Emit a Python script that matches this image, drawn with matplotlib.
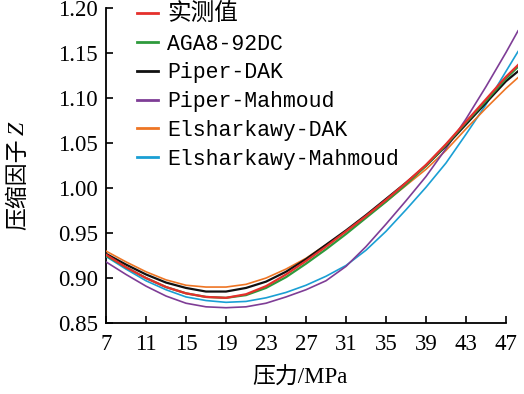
import matplotlib
matplotlib.use('Agg')
import matplotlib.pyplot as plt

# Давление, МПа
pressure = [7, 9, 11, 13, 15, 17, 19, 21, 23, 25, 27, 29, 31, 33, 35, 37, 39, 41, 43, 45, 47, 48.2]

# Коэффициент сжимаемости Z
z_measured = [0.926, 0.912, 0.900, 0.890, 0.883, 0.879, 0.878, 0.882, 0.891, 0.904, 0.919, 0.935,
              0.952, 0.969, 0.987, 1.006, 1.026, 1.049, 1.074, 1.099, 1.124, 1.137]
z_aga8 = [0.925, 0.912, 0.900, 0.890, 0.883, 0.879, 0.878, 0.881, 0.889, 0.901, 0.916, 0.932,
          0.949, 0.967, 0.985, 1.004, 1.025, 1.048, 1.073, 1.097, 1.122, 1.135]
z_piper_dak = [0.927, 0.915, 0.904, 0.895, 0.889, 0.885, 0.885, 0.889, 0.896, 0.907, 0.921, 0.937,
               0.953, 0.970, 0.988, 1.006, 1.025, 1.047, 1.071, 1.095, 1.119, 1.130]
z_piper_mahmoud = [0.918, 0.904, 0.891, 0.880, 0.872, 0.868, 0.867, 0.868, 0.872, 0.879, 0.887, 0.897,
                   0.913, 0.935, 0.960, 0.986, 1.013, 1.044, 1.077, 1.113, 1.151, 1.175]
z_elsh_dak = [0.930, 0.918, 0.907, 0.898, 0.892, 0.890, 0.890, 0.893, 0.900, 0.910, 0.922, 0.937,
              0.952, 0.968, 0.985, 1.003, 1.021, 1.042, 1.066, 1.089, 1.111, 1.123]
z_elsh_mahmoud = [0.924, 0.910, 0.897, 0.887, 0.879, 0.875, 0.873, 0.874, 0.878, 0.884, 0.892, 0.902,
                  0.914, 0.931, 0.952, 0.976, 1.001, 1.028, 1.060, 1.093, 1.130, 1.152]

labels = ['实测值', 'AGA8-92DC', 'Piper-DAK', 'Piper-Mahmoud', 'Elsharkawy-DAK', 'Elsharkawy-Mahmoud']
x_ticks = [7, 11, 15, 19, 23, 27, 31, 35, 39, 43, 47]
y_ticks = [0.85, 0.90, 0.95, 1.00, 1.05, 1.10, 1.15, 1.20]

plt.rcParams['font.family'] = ['Liberation Serif', 'Noto Sans CJK SC']

fig = plt.figure(figsize=(5.24, 3.94), dpi=100)
ax = fig.add_axes([106 / 524, 71 / 394, 412 / 524, 314.6 / 394])

series = [z_measured, z_aga8, z_piper_dak, z_piper_mahmoud, z_elsh_dak, z_elsh_mahmoud]
colors = ['#e5302c', '#2e9a3c', '#111111', '#7e3d96', '#ee7524', '#1a9fd4']
widths = [1.6, 1.6, 1.6, 1.2, 1.2, 1.2]
# рисуем в обратном порядке, чтобы "实测值" был сверху
for i in range(len(series) - 1, -1, -1):
    ax.plot(pressure, series[i], color=colors[i], lw=widths[i], label=labels[i], zorder=3 + (5 - i))

ax.set_xlim(7, 48.2)
ax.set_ylim(0.85, 1.20)
ax.set_xticks(x_ticks)
ax.set_yticks(y_ticks)
ax.set_yticklabels(['%.2f' % v for v in y_ticks])
ax.spines['top'].set_visible(False)
ax.spines['right'].set_visible(False)
ax.spines['bottom'].set_bounds(7, 47)
ax.spines['left'].set_linewidth(1.3)
ax.spines['bottom'].set_linewidth(1.3)
ax.tick_params(direction='in', length=5, width=1.2, labelsize=16.5)
ax.tick_params(axis='x', pad=8)
ax.tick_params(axis='y', pad=6)

# легенда без рамки
handles, labs = ax.get_legend_handles_labels()
order = [labs.index(l) for l in labels]
leg = fig.legend([handles[k] for k in order], labels, loc='upper left',
                 bbox_to_anchor=(126 / 524, 1.02), frameon=False,
                 prop={'family': ['Liberation Mono', 'Noto Sans CJK SC'], 'size': 15.5},
                 handlelength=1.0, handletextpad=0.4, labelspacing=0.36, borderpad=0.0)
for line in leg.get_lines():
    line.set_linewidth(2.0)
leg.get_texts()[0].set_fontsize(17)

# подпись оси Y: китайский текст + курсивная Z
fig.text(18 / 524, 1 - 184 / 394, '压缩因子', rotation=90, ha='center', va='center',
         fontsize=16.5, family='Noto Sans CJK SC')
fig.text(18 / 524, 1 - 128 / 394, 'Z', rotation=90, ha='center', va='center',
         fontsize=17, style='italic', family='Liberation Serif')
fig.text(300 / 524, 1 - 378 / 394, '压力/MPa', ha='center', va='center', fontsize=16.5)

fig.savefig('out.png', dpi=100)
